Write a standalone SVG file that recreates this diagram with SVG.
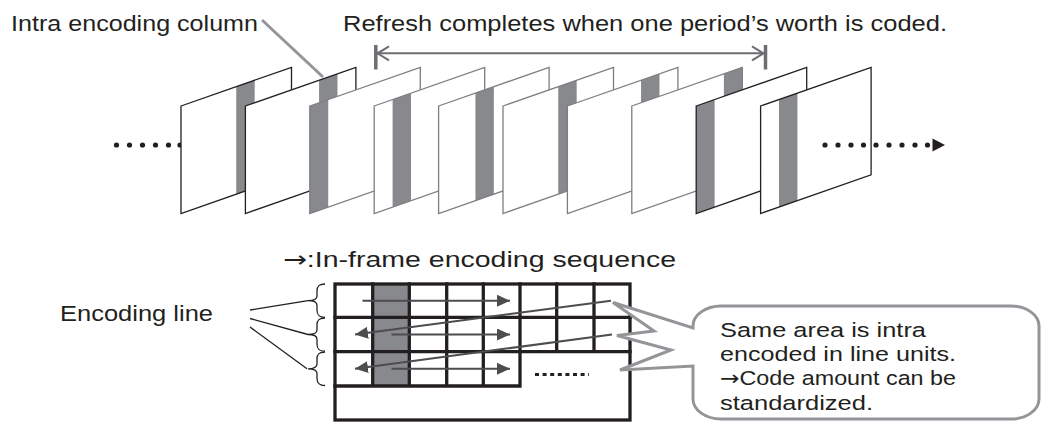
<svg xmlns="http://www.w3.org/2000/svg" xmlns:xlink="http://www.w3.org/1999/xlink" width="1043" height="422" viewBox="0 0 1043 422">
  <style>
    text { font-family: "Liberation Sans", Arial, sans-serif; font-size: 22.5px; fill: #231f20; }
    .note { font-size: 20.5px; }
    .arrow { font-family: "DejaVu Sans", "Liberation Sans", sans-serif; font-weight: normal; }
    .paper { fill: #ffffff; stroke: none; }
    .band { fill: #88898d; stroke: none; }
    .edge-dark { fill: none; stroke: #231f20; stroke-width: 1.3; stroke-linejoin: miter; }
    .edge-grey { fill: none; stroke: #7d7e81; stroke-width: 1.3; stroke-linejoin: miter; }
    .dot { fill: #231f20; }
    .grid { fill: none; stroke: #231f20; stroke-width: 3.3; stroke-linecap: square; }
    .seq { fill: none; stroke: #4d4d4f; stroke-width: 2; }
    .leader { fill: none; stroke: #231f20; stroke-width: 1.3; }
    .period { fill: none; stroke: #6d6e71; stroke-width: 2; }
  </style>
  <defs>
    <!-- one picture sheet in perspective, with its six column bands -->
    <polygon id="sheet" points="0,106 110.5,67.3 110.5,174.8 0,213.5"/>
    <polygon id="col0" points="0,106 18.42,99.55 18.42,207.05 0,213.5"/>
    <polygon id="col1" points="18.42,99.55 36.83,93.1 36.83,200.6 18.42,207.05"/>
    <polygon id="col2" points="36.83,93.1 55.25,86.65 55.25,194.15 36.83,200.6"/>
    <polygon id="col3" points="55.25,86.65 73.67,80.2 73.67,187.7 55.25,194.15"/>
    <polygon id="col4" points="73.67,80.2 92.08,73.75 92.08,181.25 73.67,187.7"/>
    <polygon id="col5" points="92.08,73.75 110.5,67.3 110.5,174.8 92.08,181.25"/>
    <marker id="tri" markerUnits="userSpaceOnUse" markerWidth="14" markerHeight="13" refX="13" refY="6" orient="auto">
      <path d="M0,0 L13,6 L0,12 Z" fill="#4d4d4f"/>
    </marker>
  </defs>

  <!-- titles -->
  <text x="11" y="31" textLength="247" lengthAdjust="spacingAndGlyphs">Intra encoding column</text>
  <text x="343" y="31" textLength="604" lengthAdjust="spacingAndGlyphs">Refresh completes when one period’s worth is coded.</text>

  <!-- lead-in dots -->
  <g id="dots-in">
    <circle class="dot" cx="116.5" cy="145" r="2.6"/>
    <circle class="dot" cx="129.5" cy="145" r="2.6"/>
    <circle class="dot" cx="142.5" cy="145" r="2.6"/>
    <circle class="dot" cx="155.5" cy="145" r="2.6"/>
    <circle class="dot" cx="168.5" cy="145" r="2.6"/>
    <circle class="dot" cx="180" cy="145" r="2.6"/>
  </g>

  <!-- picture sequence -->
  <g id="frame-1" transform="translate(181,0)">
    <use xlink:href="#sheet" class="paper"/><use xlink:href="#col3" class="band"/><use xlink:href="#sheet" class="edge-dark"/>
  </g>
  <g id="frame-2" transform="translate(245.4,0)">
    <use xlink:href="#sheet" class="paper"/><use xlink:href="#col4" class="band"/><use xlink:href="#sheet" class="edge-dark"/>
  </g>
  <g id="frame-3" transform="translate(309.8,0)">
    <use xlink:href="#sheet" class="paper"/><use xlink:href="#col0" class="band"/><use xlink:href="#sheet" class="edge-grey"/>
  </g>
  <g id="frame-4" transform="translate(374.2,0)">
    <use xlink:href="#sheet" class="paper"/><use xlink:href="#col1" class="band"/><use xlink:href="#sheet" class="edge-grey"/>
  </g>
  <g id="frame-5" transform="translate(438.6,0)">
    <use xlink:href="#sheet" class="paper"/><use xlink:href="#col2" class="band"/><use xlink:href="#sheet" class="edge-grey"/>
  </g>
  <g id="frame-6" transform="translate(503,0)">
    <use xlink:href="#sheet" class="paper"/><use xlink:href="#col3" class="band"/><use xlink:href="#sheet" class="edge-grey"/>
  </g>
  <g id="frame-7" transform="translate(567.4,0)">
    <use xlink:href="#sheet" class="paper"/><use xlink:href="#col4" class="band"/><use xlink:href="#sheet" class="edge-grey"/>
  </g>
  <g id="frame-8" transform="translate(631.8,0)">
    <use xlink:href="#sheet" class="paper"/><use xlink:href="#col5" class="band"/><use xlink:href="#sheet" class="edge-grey"/>
  </g>
  <g id="frame-9" transform="translate(696.2,0)">
    <use xlink:href="#sheet" class="paper"/><use xlink:href="#col0" class="band"/><use xlink:href="#sheet" class="edge-dark"/>
  </g>
  <g id="frame-10" transform="translate(760.6,0)">
    <use xlink:href="#sheet" class="paper"/><use xlink:href="#col1" class="band"/><use xlink:href="#sheet" class="edge-dark"/>
  </g>

  <!-- continuation dots and arrowhead -->
  <g id="dots-out">
    <circle class="dot" cx="825" cy="145" r="2.6"/>
    <circle class="dot" cx="838" cy="145" r="2.6"/>
    <circle class="dot" cx="851" cy="145" r="2.6"/>
    <circle class="dot" cx="863.5" cy="145" r="2.6"/>
    <circle class="dot" cx="876" cy="145" r="2.6"/>
    <circle class="dot" cx="889" cy="145" r="2.6"/>
    <circle class="dot" cx="902" cy="145" r="2.6"/>
    <circle class="dot" cx="915" cy="145" r="2.6"/>
    <circle class="dot" cx="927.5" cy="145" r="2.6"/>
    <path class="dot" d="M932.5,138.5 L945,145 L932.5,151.5 Z"/>
  </g>

  <!-- period span and column leader -->
  <g id="connectors-top">
    <line x1="262" y1="20" x2="323" y2="77" stroke="#939598" stroke-width="3"/>
    <line class="period" x1="377" y1="53.3" x2="764" y2="53.3"/>
    <polyline class="period" points="389,46.3 377.5,53.3 389,60.3"/>
    <polyline class="period" points="752,46.3 763.5,53.3 752,60.3"/>
    <line x1="375.8" y1="45" x2="375.8" y2="69.5" stroke="#6d6e71" stroke-width="3.5"/>
    <line x1="765.5" y1="45" x2="765.5" y2="69.5" stroke="#6d6e71" stroke-width="3.5"/>
  </g>

  <!-- legend and line labels -->
  <text x="283" y="267" textLength="393" lengthAdjust="spacingAndGlyphs"><tspan class="arrow">→</tspan>:In-frame encoding sequence</text>
  <text x="60" y="321" textLength="153" lengthAdjust="spacingAndGlyphs">Encoding line</text>

  <!-- block grid of one picture -->
  <g id="block-grid">
    <rect x="372.7" y="284" width="36.6" height="102" class="band"/>
    <rect x="335" y="284" width="295" height="136" class="grid"/>
    <path class="grid" d="M335,317.3 H630 M335,351.7 H630 M335,386 H520
                          M372.7,284 V386 M409.3,284 V386 M446.7,284 V386 M483.3,284 V386 M520,284 V386
                          M556.7,284 V351.7 M594,284 V351.7"/>
    <line x1="535" y1="374.5" x2="589" y2="374.5" stroke="#231f20" stroke-width="3" stroke-dasharray="4 3.6"/>
  </g>

  <!-- braces marking each encoding line -->
  <g id="braces" class="leader">
    <path d="M325,284 C318,284 317,287 317,291 V296 C317,299 314,300.7 308,300.7 C314,300.7 317,302.5 317,305.5 V310 C317,314 318,317.3 325,317.3"/>
    <path d="M325,318 C318,318 317,321 317,325 V330 C317,333 314,334.5 308,334.5 C314,334.5 317,336.3 317,339.3 V344 C317,348 318,351.2 325,351.2"/>
    <path d="M325,352 C318,352 317,355 317,359 V364 C317,367 314,368.8 308,368.8 C314,368.8 317,370.6 317,373.6 V378 C317,382 318,385.5 325,385.5"/>
  </g>

  <!-- connectors: label leaders and coding order -->
  <g id="connectors">
    <line class="leader" x1="250" y1="310" x2="308" y2="300.7"/>
    <line class="leader" x1="250" y1="318.5" x2="308" y2="334.5"/>
    <line class="leader" x1="250" y1="327" x2="307" y2="368.8"/>
    <line class="seq" x1="362.5" y1="300.7" x2="510" y2="300.7" marker-end="url(#tri)"/>
    <line class="seq" x1="611" y1="300.7" x2="355" y2="334.5" marker-end="url(#tri)"/>
    <line class="seq" x1="391.5" y1="334.5" x2="510" y2="334.5" marker-end="url(#tri)"/>
    <line class="seq" x1="612" y1="334.5" x2="355" y2="368.8" marker-end="url(#tri)"/>
    <line class="seq" x1="391.5" y1="368.8" x2="510" y2="368.8" marker-end="url(#tri)"/>
  </g>

  <!-- callout with three pointers -->
  <g id="callout">
    <path d="M693,366 L693,399 A28,20 0 0 0 721,419 L1011,419 A28,20 0 0 0 1039,399 L1039,326 A28,20 0 0 0 1011,306 L721,306 A28,20 0 0 0 693,326 L693,328 L613,302.5 L654,331 L617,335.5 L671,350 L620,370 Z"
          fill="#ffffff" stroke="#939598" stroke-width="3" stroke-linejoin="miter"/>
    <text class="note" x="720" y="337" textLength="206" lengthAdjust="spacingAndGlyphs">Same area is intra</text>
    <text class="note" x="720" y="361.2" textLength="236" lengthAdjust="spacingAndGlyphs">encoded in line units.</text>
    <text class="note" x="720" y="385.4" textLength="236" lengthAdjust="spacingAndGlyphs"><tspan class="arrow">→</tspan>Code amount can be</text>
    <text class="note" x="720" y="409.6" textLength="153" lengthAdjust="spacingAndGlyphs">standardized.</text>
  </g>
</svg>
